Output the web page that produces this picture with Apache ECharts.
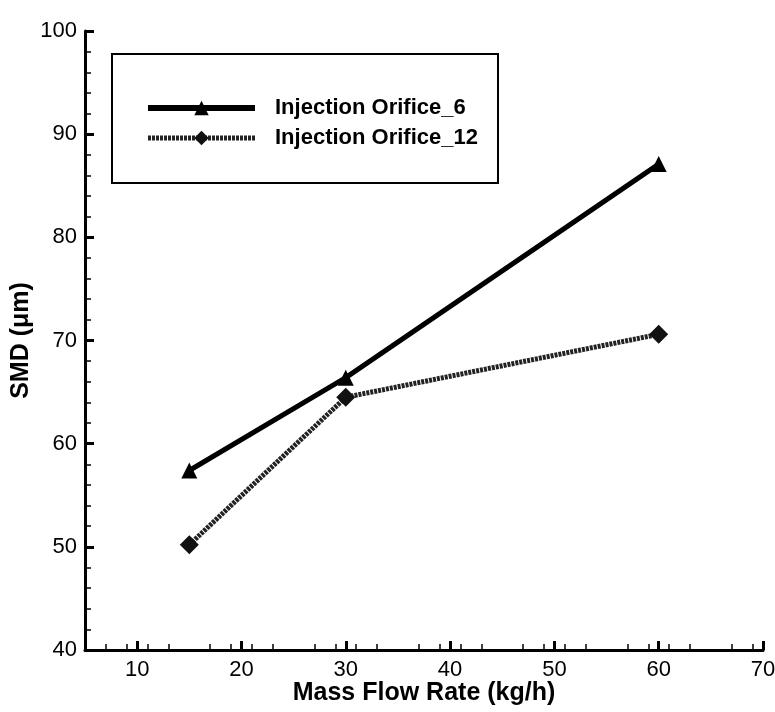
<!DOCTYPE html>
<html>
<head>
<meta charset="utf-8">
<script src="https://cdn.jsdelivr.net/npm/echarts@6/dist/echarts.min.js"></script>
<style>
  html, body { margin: 0; padding: 0; background: #fff; }
  #chart { width: 775px; height: 712px; }
</style>
</head>
<body>
<div id="chart"></div>
<script>
// mass flow rate (kg/h)
const flowRates = [15, 30, 60];
// SMD values (um)
const orifice6 = [57.4, 66.4, 87.1];
const orifice12 = [50.2, 64.5, 70.6];
const xTicks = [10, 20, 30, 40, 50, 60, 70];
const yTicks = [40, 50, 60, 70, 80, 90, 100];

(function () {
  const myChart = echarts.init(document.getElementById("chart"));
  const font = "Liberation Sans, Arial, sans-serif";

  function pairs(xs, ys) {
    return xs.map(function (x, i) {
      return [x, ys[i]];
    });
  }

  const axisCommon = {
    axisLine: { show: true, onZero: false, lineStyle: { color: "#000", width: 3 } },
    axisTick: { show: true, inside: true, length: 9, lineStyle: { color: "#000", width: 3 } },
    minorTick: { show: true, splitNumber: 5, length: 6, lineStyle: { color: "#000", width: 1.5 } },
    splitLine: { show: false },
    axisLabel: { color: "#000", fontSize: 22, fontFamily: font },
    nameTextStyle: { color: "#000", fontSize: 25, fontWeight: "bold", fontFamily: font },
  };

  const dotted = [3, 1];

  const option = {
    backgroundColor: "#fff",
    animation: false,
    grid: { left: 85, top: 31, right: 12, bottom: 62, outerBoundsMode: "none" },
    xAxis: Object.assign({}, axisCommon, {
      type: "value",
      min: 5,
      max: 70,
      interval: 10,
      name: "Mass Flow Rate (kg/h)",
      nameLocation: "middle",
      nameGap: 31,
      nameMoveOverlap: false,
      axisLabel: Object.assign({}, axisCommon.axisLabel, {
        margin: 9,
        customValues: xTicks,
      }),
      axisTick: Object.assign({}, axisCommon.axisTick, { customValues: xTicks }),
    }),
    yAxis: Object.assign({}, axisCommon, {
      type: "value",
      min: 40,
      max: 100,
      interval: 10,
      name: "SMD (\u03bcm)",
      nameLocation: "middle",
      nameGap: 51,
      nameMoveOverlap: false,
      axisLabel: Object.assign({}, axisCommon.axisLabel, {
        margin: 8,
        customValues: yTicks,
      }),
      axisTick: Object.assign({}, axisCommon.axisTick, { customValues: yTicks }),
    }),
    graphic: [
      {
        type: "rect",
        left: 111,
        top: 53,
        shape: { width: 386, height: 129 },
        style: { fill: "#fff", stroke: "#000", lineWidth: 2 },
        z: 0,
      },
    ],
    legend: {
      orient: "vertical",
      left: 145,
      top: 97,
      padding: 0,
      itemWidth: 107,
      itemHeight: 18,
      itemGap: 8,
      z: 10,
      textStyle: {
        color: "#000",
        fontSize: 22,
        fontWeight: "bold",
        fontFamily: font,
        padding: [0, 0, 0, 15],
      },
      data: [
        { name: "Injection Orifice_6", lineStyle: { width: 6 } },
        { name: "Injection Orifice_12", lineStyle: { width: 5, type: dotted } },
      ],
    },
    series: [
      {
        name: "Injection Orifice_6",
        type: "line",
        data: pairs(flowRates, orifice6),
        symbol: "triangle",
        symbolSize: 16,
        itemStyle: { color: "#000" },
        lineStyle: { color: "#000", width: 5 },
      },
      {
        name: "Injection Orifice_12",
        type: "line",
        data: pairs(flowRates, orifice12),
        symbol: "diamond",
        symbolSize: 19,
        itemStyle: { color: "#111" },
        lineStyle: { color: "#222", width: 5, type: dotted },
      },
    ],
  };
  myChart.setOption(option);

  window.addEventListener("resize", function () {
    myChart.resize();
  });
})();
</script>
</body>
</html>
